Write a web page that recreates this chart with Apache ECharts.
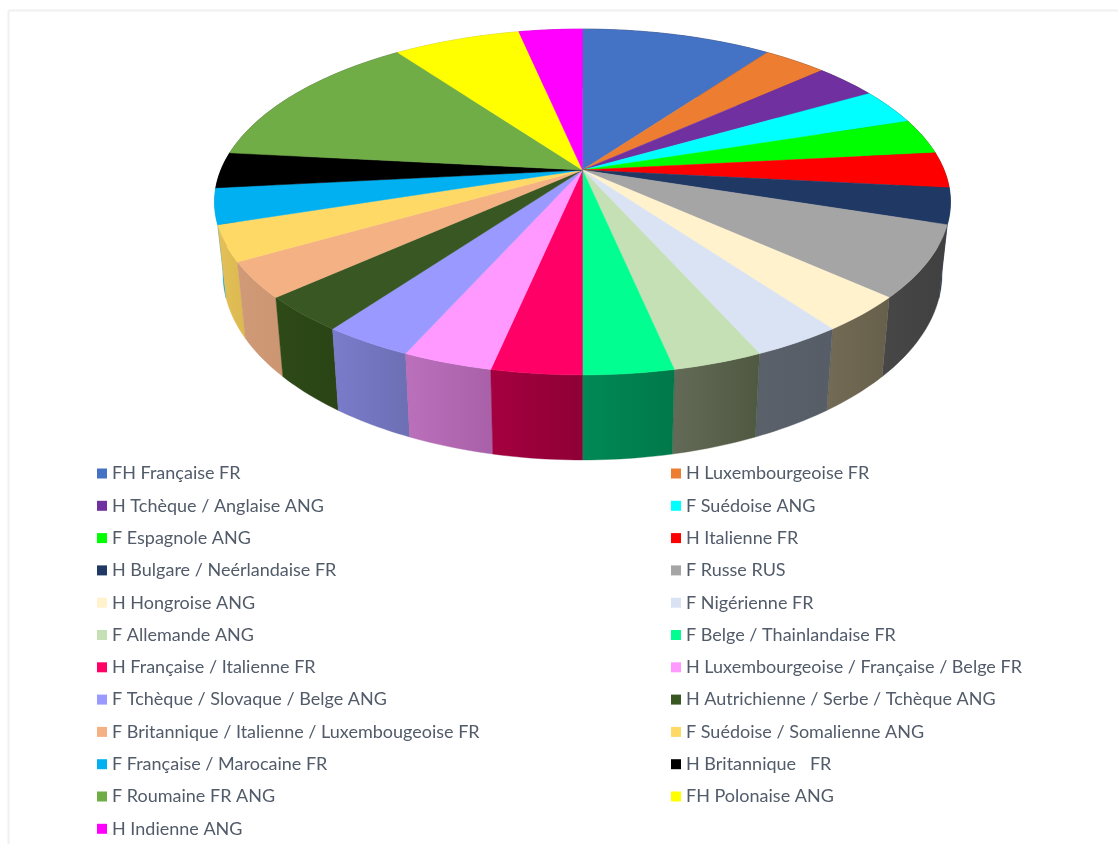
<!DOCTYPE html>
<html>
<head>
<meta charset="utf-8">
<style>html,body{margin:0;padding:0;background:#fff}#c{width:1118px;height:844px}</style>
<script src="https://cdn.jsdelivr.net/npm/echarts@6/dist/echarts.min.js"></script>
</head>
<body>
<div id="c"></div>
<script>
const categories = ["FH Française FR","H Luxembourgeoise FR","H Tchèque / Anglaise ANG","F Suédoise ANG","F Espagnole ANG","H Italienne FR","H Bulgare / Neérlandaise FR","F Russe RUS","H Hongroise ANG","F Nigérienne FR","F Allemande ANG","F Belge / Thainlandaise FR","H Française / Italienne FR","H Luxembourgeoise / Française / Belge FR","F Tchèque / Slovaque / Belge ANG","H Autrichienne / Serbe / Tchèque ANG","F Britannique / Italienne / Luxembougeoise FR","F Suédoise / Somalienne ANG","F Française / Marocaine FR","H Britannique   FR","F Roumaine FR ANG","FH Polonaise ANG","H Indienne ANG"];
const values = [3,1,1,1,1,1,1,2,1,1,1,1,1,1,1,1,1,1,1,1,4,2,1];
const colors = ["#4472C4","#ED7D31","#7030A0","#00FFFF","#00FF00","#FF0000","#1F3864","#A5A5A5","#FFF2CC","#DAE3F3","#C5E0B4","#00FF90","#FF0066","#FF99FF","#9999FF","#385723","#F4B183","#FFD966","#00B0F0","#000000","#70AD47","#FFFF00","#FF00FF"];
const wallLeft = ["#333","#333","#333","#333","#333","#333","#1a2d50","#474747","#736b55","#5a616b","#636b58","#008a55","#a5003f","#bb70bb","#7a7ccc","#2e4a17","#d09a78","#e4c05a","#00a0d8","#000","#555","#999","#909"];
const wallRight = ["#333","#333","#333","#333","#333","#333","#1a2d50","#404040","#665f4b","#565d67","#4f5840","#00784a","#8e0036","#a860a8","#6c6fb2","#2a4415","#cc9672","#dcb850","#00a0d8","#000","#555","#999","#909"];

const total = values.reduce((a, b) => a + b, 0);
const cx = 582.5, cy = 170, a = 361.6, b = 167, k = 0.185, depth = 69.3, shrink = 0.977;

function project(deg) {
  const t = deg * Math.PI / 180, x = Math.sin(t), y = -Math.cos(t), w = 1 - k * y;
  const dx = a * x / w;
  return { top: [cx + dx, cy + b * y / w], bottom: [cx + dx * shrink, cy + b * y / w + depth / w] };
}

function renderSlice(i) {
  return function (params, api) {
    const start = api.value(0) / total * 360, end = (api.value(0) + api.value(1)) / total * 360;
    const topPts = [], botPts = [];
    const n = Math.ceil(end - start);
    for (let s = 0; s <= n; s++) {
      const p = project(start + (end - start) * s / n);
      topPts.push(p.top); botPts.push(p.bottom);
    }
    const mid = (start + end) / 2 * Math.PI / 180;
    const nearness = (1 - Math.cos(mid)) * 2;
    const grad = new echarts.graphic.LinearGradient(0, 0, 1, 0, [
      { offset: 0, color: wallLeft[i] }, { offset: 1, color: wallRight[i] }]);
    return {
      type: 'group',
      children: [
        { type: 'polygon', z2: 1 + nearness, shape: { points: topPts.concat(botPts.slice().reverse()) },
          style: { fill: grad, stroke: wallRight[i], lineWidth: 0.4 } },
        { type: 'polygon', z2: 10, shape: { points: [[cx, cy]].concat(topPts) },
          style: { fill: colors[i], stroke: colors[i], lineWidth: 0.5 } }
      ]
    };
  };
}

let cum = 0;
const series = categories.map((name, i) => {
  const row = [cum, values[i]];
  cum += values[i];
  return { type: 'custom', name, coordinateSystem: 'none', silent: true, animation: false,
    itemStyle: { color: colors[i] }, data: [row], renderItem: renderSlice(i) };
});

const legendBase = { orient: 'vertical', top: 463.5, height: 375, padding: 0, icon: 'rect', itemWidth: 10, itemHeight: 10, itemGap: 12.3,
  selectedMode: false, textStyle: { fontFamily: 'Lato', fontSize: 18, lineHeight: 20, color: '#515b69' } };

const chart = echarts.init(document.getElementById('c'), null, { renderer: 'canvas' });
chart.setOption({
  animation: false,
  backgroundColor: '#fff',
  legend: [
    Object.assign({}, legendBase, { left: 97, height: 400, data: categories.filter((_, i) => i % 2 === 0) }),
    Object.assign({}, legendBase, { left: 671, data: categories.filter((_, i) => i % 2 === 1) })
  ],
  graphic: [
    { type: 'line', shape: { x1: 8.5, y1: 10.5, x2: 1118, y2: 10.5 }, style: { stroke: '#f0f0f0', lineWidth: 2 }, silent: true },
    { type: 'line', shape: { x1: 8.5, y1: 10.5, x2: 8.5, y2: 844 }, style: { stroke: '#f0f0f0', lineWidth: 2 }, silent: true }
  ],
  series
});
</script>
</body>
</html>
